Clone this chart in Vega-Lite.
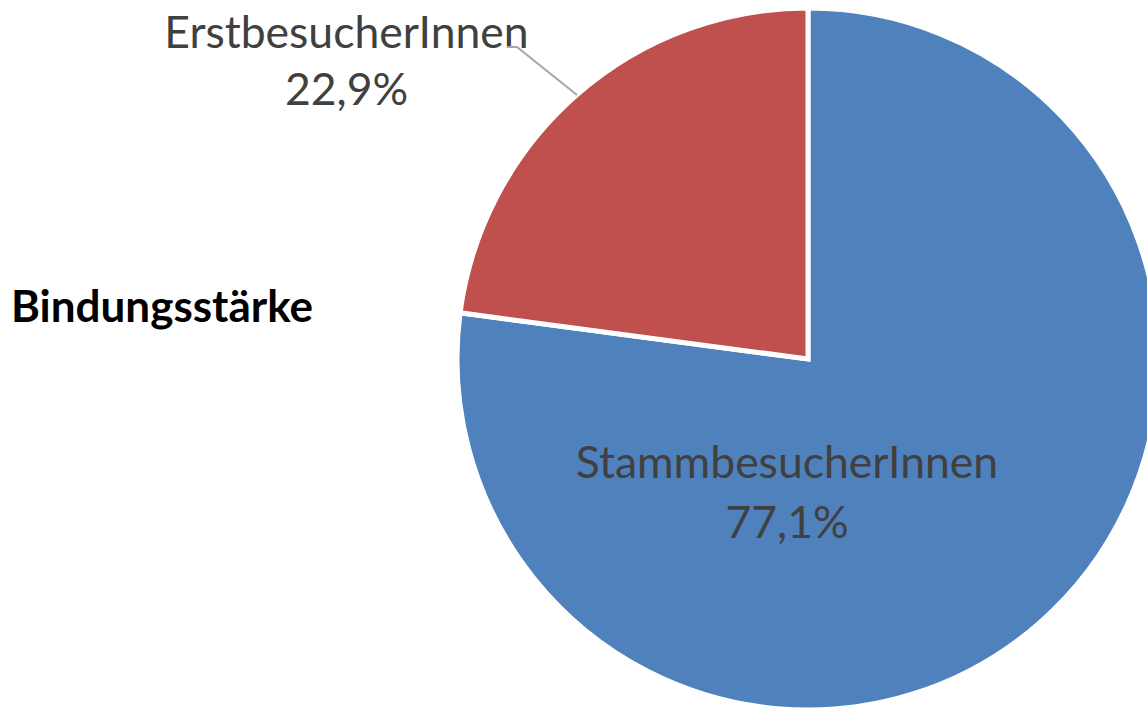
{
  "$schema": "https://vega.github.io/schema/vega-lite/v6.json",
  "width": 678,
  "height": 704,
  "autosize": {"type": "none"},
  "padding": {"left": 469, "top": 7, "right": 0, "bottom": 0},
  "background": "white",
  "config": {"view": {"stroke": null}},
  "title": {
    "text": "Bindungsstärke",
    "orient": "top",
    "anchor": "start",
    "frame": "group",
    "align": "left",
    "baseline": "alphabetic",
    "offset": 0,
    "dx": -458,
    "dy": 368,
    "font": "Lato",
    "fontSize": 44,
    "fontWeight": "bold",
    "color": "#000000"
  },
  "data": {
    "values": [
      {"category": "StammbesucherInnen", "value": 77.1},
      {"category": "ErstbesucherInnen", "value": 22.9}
    ]
  },
  "transform": [
    {"calculate": "replace(format(datum.value, '.1f'), '.', ',') + '%'", "as": "pct"},
    {"calculate": "datum.category + '\\n' + datum.pct", "as": "label"}
  ],
  "layer": [
    {
      "mark": {"type": "arc", "outerRadius": 351, "stroke": "white", "strokeWidth": 5},
      "encoding": {
        "theta": {"field": "value", "type": "quantitative", "stack": true},
        "color": {
          "field": "category",
          "type": "nominal",
          "scale": {"domain": ["StammbesucherInnen", "ErstbesucherInnen"], "range": ["#4F81BD", "#C0504D"]},
          "legend": null
        },
        "order": {"field": "category", "sort": "descending"}
      }
    },
    {
      "transform": [{"filter": "datum.category === 'StammbesucherInnen'"}],
      "mark": {"type": "text", "font": "Lato", "fontSize": 44.5, "color": "#404040", "align": "center", "baseline": "alphabetic", "lineBreak": "\n", "lineHeight": 60, "dx": -21, "dy": 119},
      "encoding": {"text": {"field": "label", "type": "nominal"}}
    },
    {
      "transform": [{"filter": "datum.category === 'ErstbesucherInnen'"}],
      "mark": {"type": "text", "font": "Lato", "fontSize": 44.5, "color": "#404040", "align": "center", "baseline": "alphabetic", "lineBreak": "\n", "lineHeight": 57, "dx": -461.5, "dy": -311},
      "encoding": {"text": {"field": "label", "type": "nominal"}}
    },
    {
      "transform": [{"filter": "datum.category === 'ErstbesucherInnen'"}],
      "mark": {"type": "point", "shape": "M -301 -312 L -291 -312 L -231 -264", "size": 4, "filled": false, "stroke": "#A6A6A6", "strokeWidth": 2, "opacity": 1},
      "encoding": {}
    }
  ]
}
